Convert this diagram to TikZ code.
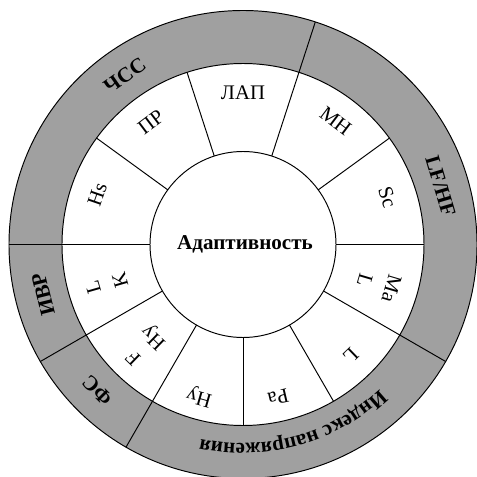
\documentclass[tikz,border=0pt]{standalone}
\usepackage{fontspec}
\setmainfont{Liberation Serif}
\usetikzlibrary{decorations.text}
\definecolor{bandgray}{RGB}{160,160,160}
\tikzset{
  sector/.style={font=\fontsize{11.8}{16}\selectfont, align=center, inner sep=0pt},
  band/.style={font=\fontsize{12}{14}\selectfont\bfseries, inner sep=0pt},
  bandtext/.style={decorate, decoration={text along path, text align=center,
      text={|\bfseries\fontsize{12}{14}\selectfont|#1}}}
}
\begin{document}
\begin{tikzpicture}[x=0.02cm, y=0.02cm, line width=0.55pt]
	\useasboundingbox (-243,-232.5) rectangle (234,244.5);
	\fill[bandgray] (0,0) circle (234);
	\fill[white] (0,0) circle (181);
	\draw (0,0) circle (234);
	\draw (0,0) circle (181);
	\draw (0,0) circle (93);
	\foreach \a in {0,36,72,108,144,180,210,240,270,300,330}
		\draw (\a:93) -- (\a:181);
	\foreach \a in {72,180,210,240,330}
		\draw (\a:181) -- (\a:234);
	\node (adapt) at (2,0) {\fontsize{12}{14}\selectfont\textbf{Адаптивность}};
	\node (lap) at (90:151.5) [sector, rotate=0] {ЛАП};
	\node (mn) at (53:154) [sector, rotate=-37] {МН};
	\node (sc) at (18:152) [sector, rotate=-72] {Sc};
	\node (mal) at (-16.5:141) [sector, rotate=-106.5] {Ma\\L};
	\node (l) at (-46:155) [sector, rotate=-136] {L};
	\node (pa) at (-77:157) [sector, rotate=-167] {Pa};
	\node (hy) at (-106:158) [sector, rotate=-196] {Hy};
	\node (fhy) at (-134:142) [sector, rotate=-224] {F\\Hy};
	\node (lk) at (196:142) [sector, rotate=106] {L\\K};
	\node (hs) at (161:154) [sector, rotate=71] {Hs};
	\node (pr) at (127:153) [sector, rotate=37] {ПР};
	\node (chss) at (125:206) [band, rotate=35] {ЧСС};
	\node (lfhf) at (16.5:206) [band, rotate=-73.5] {LF/HF};
	\node (ivr) at (194:206) [band, rotate=104] {ИВР};
	\node (fs) at (225:206) [band, rotate=135] {ФС};
	\path[bandtext=Индекс напряжения] (340.5:199) arc[start angle=340.5, end angle=230.5, radius=199];
\end{tikzpicture}
\end{document}
